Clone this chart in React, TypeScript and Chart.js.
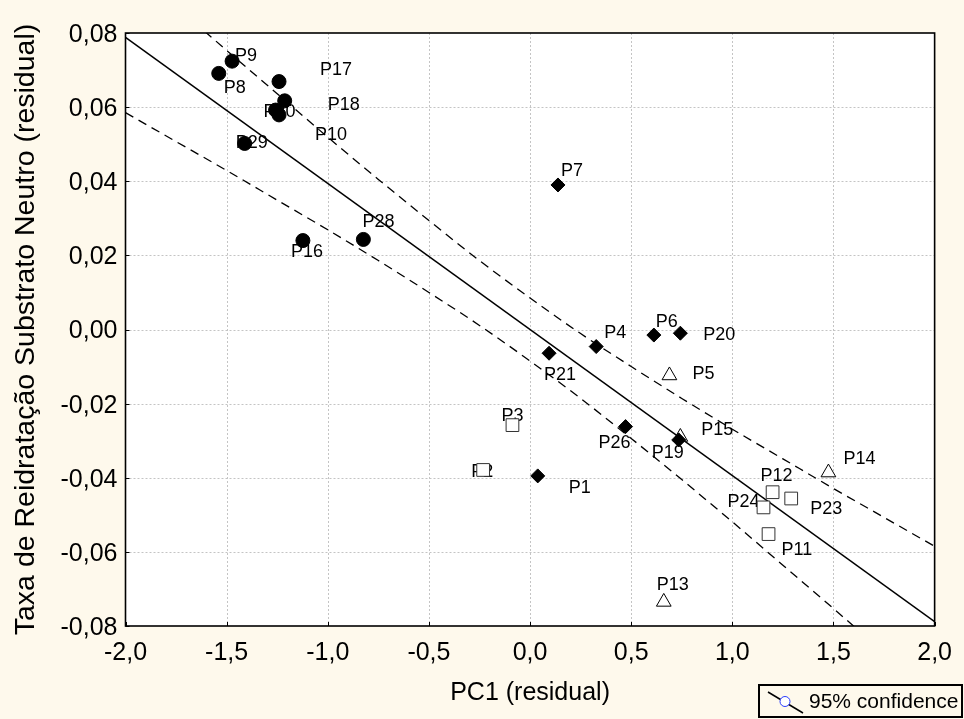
import React, { useEffect, useRef } from 'react';
import { Chart, registerables } from 'chart.js';

Chart.register(...registerables);

// ---- tick definitions ----
const X_TICK_VALUES = [-2, -1.5, -1, -0.5, 0, 0.5, 1, 1.5, 2];
const X_TICK_LABELS = ['-2,0', '-1,5', '-1,0', '-0,5', '0,0', '0,5', '1,0', '1,5', '2,0'];
const Y_TICK_VALUES = [-0.08, -0.06, -0.04, -0.02, 0, 0.02, 0.04, 0.06, 0.08];
const Y_TICK_LABELS = ['-0,08', '-0,06', '-0,04', '-0,02', '0,00', '0,02', '0,04', '0,06', '0,08'];

// ---- filled circles ----
const circleLabels = ['P9', 'P8', 'P17', 'P18', 'P30', 'P10', 'P29', 'P16', 'P28'];
const circleX = [-1.473, -1.539, -1.241, -1.213, -1.258, -1.241, -1.411, -1.123, -0.824];
const circleY = [0.0724, 0.0691, 0.0669, 0.0617, 0.0592, 0.0579, 0.0502, 0.024, 0.0243];

// ---- filled diamonds ----
const diamondLabels = ['P7', 'P4', 'P6', 'P20', 'P21', 'P26', 'P19', 'P1'];
const diamondX = [0.138, 0.327, 0.612, 0.743, 0.094, 0.472, 0.735, 0.038];
const diamondY = [0.039, -0.0046, -0.0015, -0.001, -0.0064, -0.0262, -0.0298, -0.0395];

// ---- open triangles ----
const triangleLabels = ['P5', 'P15', 'P14', 'P13'];
const triangleX = [0.689, 0.743, 1.475, 0.661];
const triangleY = [-0.0124, -0.029, -0.0386, -0.0735];

// ---- open squares ----
const squareLabels = ['P3', 'P2', 'P12', 'P23', 'P24', 'P11'];
const squareX = [-0.087, -0.232, 1.199, 1.291, 1.154, 1.179];
const squareY = [-0.0258, -0.0379, -0.0439, -0.0456, -0.048, -0.0552];

// ---- regression line and 95% confidence bands ----
const fitX = [-2, 2];
const fitY = [0.0788, -0.0788];
const bandX = [-2, -1.75, -1.5, -1.25, -1, -0.75, -0.5, -0.25, 0, 0.25, 0.5, 0.75, 1, 1.25, 1.5, 1.75, 2];
const upperBand = [0.0991, 0.0872, 0.0753, 0.0636, 0.0519, 0.0405, 0.0294, 0.0186, 0.0085, -0.0011, -0.01, -0.0186, -0.0269, -0.0349, -0.0429, -0.0507, -0.0585];
const lowerBand = [0.0585, 0.0507, 0.0429, 0.0349, 0.0269, 0.0186, 0.01, 0.0011, -0.0085, -0.0186, -0.0294, -0.0405, -0.0519, -0.0636, -0.0753, -0.0872, -0.0991];

// label placement (pixel offsets from marker centre to label's left/middle)
const LABEL_OFFSETS: Record<string, [number, number]> = {
  P9: [3, -5], P8: [5, 15], P17: [41, -12], P18: [43, 4], P30: [-12, 2], P10: [36, 20],
  P29: [-9, 0], P16: [-12, 11], P28: [-1, -17], P7: [3, -14], P4: [8, -14], P6: [2, -13],
  P20: [23, 2], P21: [-5, 22], P26: [-27, 16], P19: [-27, 13], P1: [31, 12], P5: [23, -1],
  P15: [21, -7], P14: [15, -14], P13: [-7, -17], P3: [-11, -9], P2: [-12, 2], P12: [-12, -16],
  P24: [-36, -5], P23: [19, 11], P11: [13, 16],
};

const FONT = "'Liberation Sans', Arial, sans-serif";
const BG = '#fef9ec';

const toPts = (xs: number[], ys: number[]) => xs.map((x, i) => ({ x, y: ys[i] }));

const decor = {
  id: 'decor',
  beforeDraw(chart: any) {
    const { ctx, width, height, chartArea: a } = chart;
    ctx.save();
    ctx.fillStyle = BG;
    ctx.fillRect(0, 0, width, height);
    ctx.fillStyle = '#ffffff';
    ctx.fillRect(a.left, a.top, a.right - a.left, a.bottom - a.top);
    const xs = chart.scales.x;
    const ys = chart.scales.y;
    ctx.strokeStyle = '#c4c4c4';
    ctx.lineWidth = 1;
    ctx.setLineDash([2, 2]);
    X_TICK_VALUES.slice(1, -1).forEach((v) => {
      const px = Math.round(xs.getPixelForValue(v)) + 0.5;
      ctx.beginPath();
      ctx.moveTo(px, a.top);
      ctx.lineTo(px, a.bottom);
      ctx.stroke();
    });
    Y_TICK_VALUES.slice(1, -1).forEach((v) => {
      const py = Math.round(ys.getPixelForValue(v)) + 0.5;
      ctx.beginPath();
      ctx.moveTo(a.left, py);
      ctx.lineTo(a.right, py);
      ctx.stroke();
    });
    ctx.restore();
  },
  beforeDatasetsDraw(chart: any) {
    const { ctx } = chart;
    ctx.save();
    ctx.fillStyle = '#000';
    ctx.font = `18px ${FONT}`;
    ctx.textAlign = 'left';
    ctx.textBaseline = 'middle';
    chart.data.datasets.forEach((ds: any, di: number) => {
      if (!ds.pointLabels) return;
      const meta = chart.getDatasetMeta(di);
      ds.pointLabels.forEach((lab: string, i: number) => {
        const el = meta.data[i];
        if (!el) return;
        const off = LABEL_OFFSETS[lab] || [6, -10];
        ctx.fillText(lab, el.x + off[0], el.y + off[1]);
      });
    });
    ctx.restore();
  },
  afterDraw(chart: any) {
    const { ctx, chartArea: a } = chart;
    const xs = chart.scales.x;
    const ys = chart.scales.y;
    ctx.save();
    ctx.strokeStyle = '#000';
    ctx.lineWidth = 1.6;
    ctx.strokeRect(a.left, a.top, a.right - a.left, a.bottom - a.top);
    ctx.lineWidth = 1;
    X_TICK_VALUES.forEach((v) => {
      const px = Math.round(xs.getPixelForValue(v)) + 0.5;
      ctx.beginPath();
      ctx.moveTo(px, a.bottom);
      ctx.lineTo(px, a.bottom - 4);
      ctx.stroke();
    });
    Y_TICK_VALUES.forEach((v) => {
      const py = Math.round(ys.getPixelForValue(v)) + 0.5;
      ctx.beginPath();
      ctx.moveTo(a.left, py);
      ctx.lineTo(a.left + 4, py);
      ctx.stroke();
    });
    // legend box
    ctx.lineWidth = 2;
    ctx.strokeRect(759, 685, 203, 32);
    ctx.lineWidth = 1.5;
    ctx.beginPath();
    ctx.moveTo(768, 692);
    ctx.lineTo(803, 713);
    ctx.stroke();
    ctx.beginPath();
    ctx.arc(785, 701.5, 5, 0, Math.PI * 2);
    ctx.fillStyle = '#ffffff';
    ctx.fill();
    ctx.strokeStyle = '#2a3cff';
    ctx.lineWidth = 1;
    ctx.stroke();
    ctx.fillStyle = '#000';
    ctx.font = `21px ${FONT}`;
    ctx.textAlign = 'left';
    ctx.textBaseline = 'middle';
    ctx.fillText('95% confidence', 809, 702);
    ctx.restore();
  },
};

export default function App() {
  const ref = useRef<HTMLCanvasElement | null>(null);

  useEffect(() => {
    document.body.style.margin = '0';
    const canvas = ref.current;
    if (!canvas) return;
    const pointBase = { showLine: false, borderWidth: 1, order: 0 };
    const chart = new Chart(canvas, {
      type: 'scatter',
      data: {
        datasets: [
          { ...pointBase, label: 'circles', data: toPts(circleX, circleY), pointStyle: 'circle', pointRadius: 7, backgroundColor: '#000', borderColor: '#000', pointLabels: circleLabels } as any,
          { ...pointBase, label: 'diamonds', data: toPts(diamondX, diamondY), pointStyle: 'rectRot', pointRadius: 7, backgroundColor: '#000', borderColor: '#000', pointLabels: diamondLabels } as any,
          { ...pointBase, label: 'triangles', data: toPts(triangleX, triangleY), pointStyle: 'triangle', pointRadius: 8.5, backgroundColor: '#fff', borderColor: '#000', pointLabels: triangleLabels } as any,
          { ...pointBase, label: 'squares', data: toPts(squareX, squareY), pointStyle: 'rect', pointRadius: 9, backgroundColor: '#fff', borderColor: '#333', pointLabels: squareLabels } as any,
          { label: 'fit', data: toPts(fitX, fitY), showLine: true, pointRadius: 0, borderColor: '#000', borderWidth: 1.5, order: 1 } as any,
          { label: 'upper', data: toPts(bandX, upperBand), showLine: true, pointRadius: 0, borderColor: '#000', borderWidth: 1.3, borderDash: [9, 6], cubicInterpolationMode: 'monotone', order: 1 } as any,
          { label: 'lower', data: toPts(bandX, lowerBand), showLine: true, pointRadius: 0, borderColor: '#000', borderWidth: 1.3, borderDash: [9, 6], cubicInterpolationMode: 'monotone', order: 1 } as any,
        ],
      },
      options: {
        responsive: false,
        animation: false,
        devicePixelRatio: 1,
        layout: { padding: { top: 33, right: 27.5, left: 0, bottom: 0 } },
        plugins: { legend: { display: false }, tooltip: { enabled: false } },
        scales: {
          x: {
            type: 'linear',
            min: -2,
            max: 2,
            afterBuildTicks: (s: any) => { s.ticks = X_TICK_VALUES.map((v) => ({ value: v })); },
            afterFit: (s: any) => { s.height = 93; },
            grid: { display: false, drawTicks: false },
            border: { display: false },
            ticks: {
              padding: 12,
              color: '#000',
              font: { family: FONT, size: 25 },
              maxRotation: 0,
              autoSkip: false,
              callback: (_v: any, i: number) => X_TICK_LABELS[i],
            },
            title: { display: true, text: 'PC1 (residual)', color: '#000', font: { family: FONT, size: 25 }, padding: { top: 0, bottom: 11 } },
          },
          y: {
            type: 'linear',
            min: -0.08,
            max: 0.08,
            afterBuildTicks: (s: any) => { s.ticks = Y_TICK_VALUES.map((v) => ({ value: v })); },
            afterFit: (s: any) => { s.width = 125.5; },
            grid: { display: false, drawTicks: false },
            border: { display: false },
            ticks: {
              padding: 8,
              labelOffset: 2,
              color: '#000',
              font: { family: FONT, size: 25 },
              autoSkip: false,
              callback: (_v: any, i: number) => Y_TICK_LABELS[i],
            },
            title: { display: true, text: 'Taxa de Reidratação Substrato Neutro (residual)', color: '#000', font: { family: FONT, size: 28.5 }, padding: { top: 9, bottom: 0 } },
          },
        },
      } as any,
      plugins: [decor],
    });
    return () => chart.destroy();
  }, []);

  return (
    <div style={{ position: 'absolute', left: 0, top: 0, width: 964, height: 719 }}>
      <canvas ref={ref} width={964} height={719} style={{ width: 964, height: 719, display: 'block' }} />
    </div>
  );
}
